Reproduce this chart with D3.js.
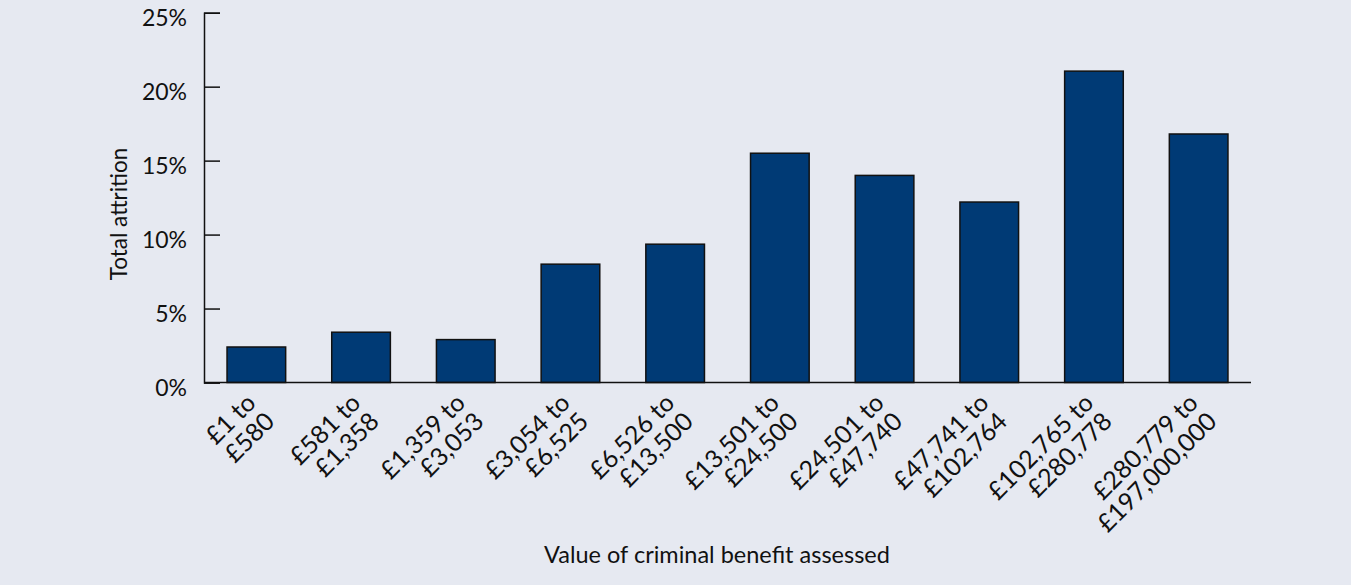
<!DOCTYPE html>
<html>
<head>
<meta charset="utf-8">
<script src="https://cdn.jsdelivr.net/npm/d3@7"></script>
<style>
  body { margin: 0; background: #e6e9f1; }
  svg { display: block; }
  text { font-family: Lato, "Open Sans", sans-serif; fill: #111; }
</style>
</head>
<body>
<script>
// bands of criminal benefit, two lines each
const bandFrom = ['£1 to', '£581 to', '£1,359 to', '£3,054 to', '£6,526 to', '£13,501 to', '£24,501 to', '£47,741 to', '£102,765 to', '£280,779 to']
const bandTo = ['£580', '£1,358', '£3,053', '£6,525', '£13,500', '£24,500', '£47,740', '£102,764', '£280,778', '£197,000,000']
const attrition = [2.4, 3.4, 2.9, 8.0, 9.35, 15.5, 14.0, 12.2, 21.05, 16.8] // percent
const yTicks = [0, 5, 10, 15, 20, 25]

const width = 1351
const height = 585
const margin = { left: 204, right: 100, top: 12.7, bottom: 202.5 }
const innerW = width - margin.left - margin.right
const innerH = height - margin.top - margin.bottom

const x = d3.scaleBand()
    .domain(d3.range(attrition.length))
    .range([0, innerW])
    .paddingInner(0.44)
    .paddingOuter(0.22)

const y = d3.scaleLinear()
    .domain([0, 25])
    .range([innerH, 0])

const svg = d3.select('body').append('svg').attr('width', width).attr('height', height)
const g = svg.append('g').attr('transform', 'translate(' + margin.left + ',' + margin.top + ')')

// bars
g.selectAll('rect.bar')
    .data(attrition)
    .join('rect')
    .attr('class', 'bar')
    .attr('x', (d, i) => x(i))
    .attr('y', d => y(d))
    .attr('width', x.bandwidth())
    .attr('height', d => innerH - y(d))
    .attr('fill', '#003a75')
    .attr('stroke', '#111')
    .attr('stroke-width', 1.5)

// y axis, ticks pointing into the plot
const yAxis = d3.axisRight(y).tickValues(yTicks).tickFormat(d => d + '%').tickSize(16)
const yG = g.append('g').call(yAxis)
yG.select('.domain').attr('stroke', '#111').attr('stroke-width', 1.5)
yG.selectAll('.tick line').attr('stroke', '#111').attr('stroke-width', 1.5)
yG.selectAll('.tick text')
    .attr('x', -17)
    .attr('y', 5) // labels sit a little below their tick in the original
    .attr('text-anchor', 'end')
    .attr('font-size', 23)
    .attr('dy', '0.35em')

// x axis line only
g.append('line')
    .attr('x1', 0).attr('x2', innerW)
    .attr('y1', innerH).attr('y2', innerH)
    .attr('stroke', '#111').attr('stroke-width', 1.5)

// rotated category labels
const lbl = g.selectAll('text.cat')
    .data(bandFrom)
    .join('text')
    .attr('class', 'cat')
    .attr('font-size', 25)
    .attr('text-anchor', 'end')
    .attr('transform', (d, i) => 'translate(' + (x(i) + x.bandwidth() / 2 + 1) + ',' + (innerH + 22) + ') rotate(-45)')
lbl.append('tspan').attr('x', 0).attr('dy', 0).text(d => d)
lbl.append('tspan').attr('x', 0).attr('dy', '1.05em').text((d, i) => bandTo[i])

// axis titles
svg.append('text')
    .attr('transform', 'translate(127,214) rotate(-90)')
    .attr('text-anchor', 'middle')
    .attr('font-size', 22.5)
    .text('Total attrition')

svg.append('text')
    .attr('x', 717)
    .attr('y', 563)
    .attr('text-anchor', 'middle')
    .attr('font-size', 23.5)
    .text('Value of criminal benefit assessed')
</script>
</body>
</html>
